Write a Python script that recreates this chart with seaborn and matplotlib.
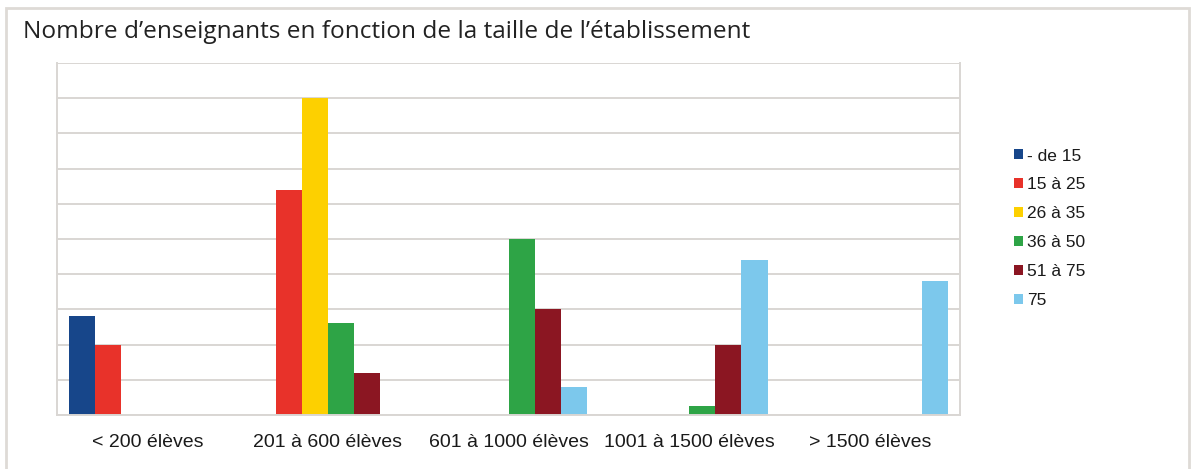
import pandas as pd
import seaborn as sns
import matplotlib.pyplot as plt
from matplotlib.patches import Rectangle

# Data
groups = ["< 200 élèves", "201 à 600 élèves", "601 à 1000 élèves",
          "1001 à 1500 élèves", "> 1500 élèves"]
series = ["- de 15", "15 à 25", "26 à 35", "36 à 50", "51 à 75", "75"]
de_15 = [2.8, 0, 0, 0, 0]
de_15_25 = [2.0, 6.4, 0, 0, 0]
de_26_35 = [0, 9.0, 0, 0, 0]
de_36_50 = [0, 2.6, 5.0, 0.25, 0]
de_51_75 = [0, 1.2, 3.0, 2.0, 0]
plus_75 = [0, 0, 0.8, 4.4, 3.8]
colors = ["#17468a", "#e8322a", "#fdd000", "#2ea446", "#8b1622", "#7cc8ec"]

values = [de_15, de_15_25, de_26_35, de_36_50, de_51_75, plus_75]
rows = []
for name, vals in zip(series, values):
    for g, v in zip(groups, vals):
        rows.append({"Taille": g, "Enseignants": name, "Valeur": v})
df = pd.DataFrame(rows)

sns.set_style("white")
plt.rcParams['font.family'] = ['Liberation Sans', 'DejaVu Sans']

fig = plt.figure(figsize=(11.95, 4.69), dpi=100)
ax = fig.add_axes([57 / 1195, 1 - 415 / 469, 903 / 1195, 352 / 469])

sns.barplot(data=df, x="Taille", y="Valeur", hue="Enseignants",
            palette=colors, width=0.87, gap=0, linewidth=0,
            saturation=1, ax=ax)

ax.set_ylim(0, 10)
ax.set_yticks(range(0, 11))
ax.set_yticklabels([])
ax.tick_params(axis="y", length=0)
ax.grid(axis="y", color="#d9d6d3", linewidth=1.4)
ax.set_axisbelow(True)
ax.set_xlim(-0.5, 4.5)
ax.set_xlabel("")
ax.set_ylabel("")
ax.set_xticks([i + 0.5 for i in range(-1, 5)], minor=True)
ax.tick_params(axis="x", which="major", length=0, pad=14,
               labelsize=14, labelcolor="#1a1a1a")
ax.tick_params(axis="x", which="minor", length=8, color="#cfcbc8", width=1.2)
for s in ax.spines.values():
    s.set_color("#d9d6d3")
    s.set_linewidth(1.4)
ax.spines["top"].set_visible(False)

handles, labels = ax.get_legend_handles_labels()
ax.legend_.remove()
fig.legend(handles, labels, loc="upper left",
           bbox_to_anchor=(1014 / 1195, 1 - 148.5 / 469), frameon=False,
           fontsize=12.5, handlelength=0.5, handleheight=0.5,
           handletextpad=0.25, labelspacing=0.8, borderpad=0,
           borderaxespad=0, labelcolor="#1a1a1a")

# Title and outer frame
fig.text(23 / 1195, 1 - 32 / 469,
         "Nombre d\u2019enseignants en fonction de la taille de l\u2019établissement",
         fontsize=17.6, family=["Open Sans", "DejaVu Sans"], color="#222222",
         va="center", ha="left")
fig.patches.append(Rectangle((6 / 1195, -0.05), 1183 / 1195, 1.05 - 8 / 469,
                             transform=fig.transFigure, fill=False,
                             edgecolor="#dedad6", linewidth=2))

fig.savefig("out.png", dpi=100)
